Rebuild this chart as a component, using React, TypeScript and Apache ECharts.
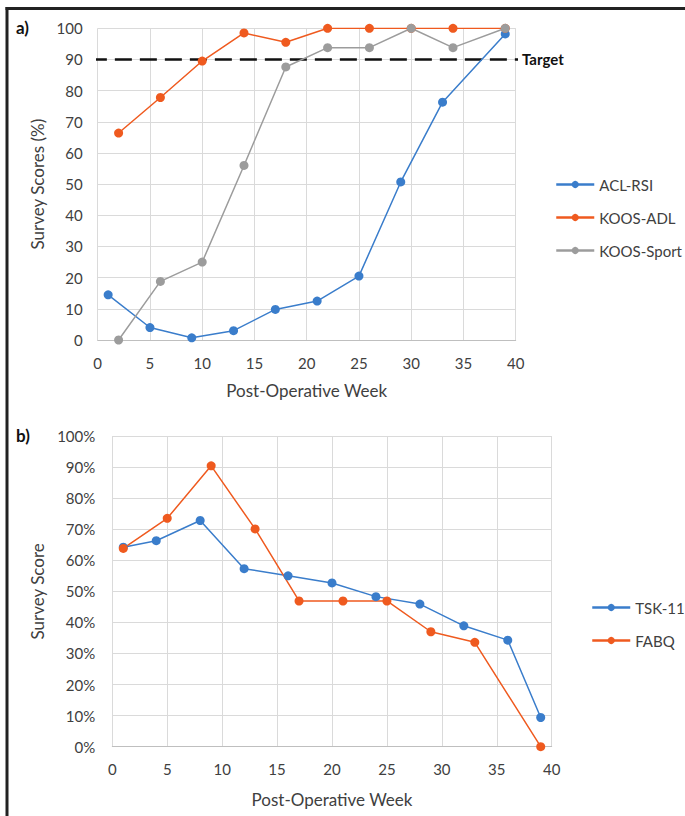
import React, { useEffect, useRef } from "react";
import * as echarts from "echarts";

// ---- Panel a) data ----
const aclWeeks = [1, 5, 9, 13, 17, 21, 25, 29, 33, 39];
const aclRsi = [14.5, 4, 0.7, 3, 9.8, 12.5, 20.5, 50.7, 76.3, 98.2];
const koosWeeks = [2, 6, 10, 14, 18, 22, 26, 30, 34, 39];
const koosAdl = [66.4, 77.8, 89.5, 98.5, 95.5, 100, 100, 100, 100, 100];
const koosSport = [0, 18.8, 25, 56, 87.6, 93.8, 93.8, 100, 93.8, 100];
const targetValue = 90;
const targetSpan = [-0.75, 42.5];

// ---- Panel b) data ----
const tskWeeks = [1, 4, 8, 12, 16, 20, 24, 28, 32, 36, 39];
const tsk11 = [64.2, 66.3, 72.8, 57.3, 55, 52.7, 48.3, 45.9, 38.9, 34.3, 9.4];
const fabqWeeks = [1, 5, 9, 13, 17, 21, 25, 29, 33, 39];
const fabq = [63.8, 73.5, 90.4, 70.1, 46.9, 46.9, 46.9, 37, 33.6, 0];

const BLUE = "#3A7DCB";
const ORANGE = "#EF5A1F";
const GRAY = "#9C9C9C";
const TXT = "#404040";
const FONT = "Lato";

const pairs = (xs: number[], ys: number[]) => xs.map((x, i) => [x, ys[i]]);

function lineSeries(name: string, color: string, data: number[][], idx: number) {
  return {
    name,
    type: "line",
    xAxisIndex: idx,
    yAxisIndex: idx,
    data,
    symbol: "circle",
    symbolSize: 9,
    lineStyle: { color, width: 1.5 },
    itemStyle: { color },
    emphasis: { disabled: true },
  };
}

export default function App() {
  const ref = useRef<HTMLDivElement>(null);
  useEffect(() => {
    if (!ref.current) return;
    const chart = echarts.init(ref.current, null, { renderer: "svg" });
    const axisLabel = { color: TXT, fontSize: 15, fontFamily: FONT };
    const splitLine = { show: true, lineStyle: { color: "#DADADA", width: 1 } };
    const xAxisCommon = {
      type: "value",
      min: 0,
      max: 40,
      interval: 5,
      axisTick: { show: false },
      axisLine: { show: true, lineStyle: { color: "#BFBFBF", width: 1 } },
      splitLine,
      name: "Post-Operative Week",
      nameLocation: "middle",
      nameTextStyle: { color: TXT, fontSize: 17, fontFamily: FONT },
    };
    const yAxisCommon = {
      type: "value",
      min: 0,
      max: 100,
      interval: 10,
      axisTick: { show: false },
      axisLine: { show: false },
      splitLine,
      nameLocation: "middle",
      nameTextStyle: { color: TXT, fontSize: 17, fontFamily: FONT },
    };
    const legendCommon = {
      orient: "vertical",
      padding: 0,
      itemWidth: 38,
      itemHeight: 9,
      itemGap: 18,
      lineStyle: { width: 2.5 },
      textStyle: { color: TXT, fontSize: 15, fontFamily: FONT },
      selectedMode: false,
    };
    const option = {
      animation: false,
      backgroundColor: "#fff",
      textStyle: { fontFamily: FONT },
      grid: [
        { left: 97.7, right: 169.3, top: 28.3, height: 311.7 },
        { left: 112.3, right: 133.3, top: 436, height: 310.7 },
      ],
      xAxis: [
        { ...xAxisCommon, gridIndex: 0, nameGap: 42, axisLabel: { ...axisLabel, margin: 15 } },
        { ...xAxisCommon, gridIndex: 1, nameGap: 44, axisLabel: { ...axisLabel, margin: 15 } },
      ],
      yAxis: [
        {
          ...yAxisCommon,
          gridIndex: 0,
          name: "Survey Scores (%)",
          nameGap: 50,
          axisLabel: { ...axisLabel, margin: 15 },
        },
        {
          ...yAxisCommon,
          gridIndex: 1,
          name: "Survey Score",
          nameGap: 65,
          axisLabel: { ...axisLabel, margin: 17, formatter: "{value}%" },
        },
      ],
      legend: [
        {
          ...legendCommon,
          data: ["ACL-RSI", "KOOS-ADL", "KOOS-Sport"],
          left: 555,
          top: 177,
        },
        {
          ...legendCommon,
          data: ["TSK-11", "FABQ"],
          left: 591,
          top: 600,
        },
      ],
      series: [
        {
          name: "Target",
          type: "line",
          xAxisIndex: 0,
          yAxisIndex: 0,
          data: targetSpan.map((x) => [x, targetValue]),
          symbol: "none",
          clip: false,
          silent: true,
          lineStyle: { color: "#111", width: 2.5, type: [17, 8] },
          endLabel: {
            show: true,
            formatter: "Target",
            distance: 4,
            color: "#111",
            fontSize: 15,
            fontWeight: "bold",
            fontFamily: FONT,
          },
          z: 1,
        },
        lineSeries("ACL-RSI", BLUE, pairs(aclWeeks, aclRsi), 0),
        lineSeries("KOOS-ADL", ORANGE, pairs(koosWeeks, koosAdl), 0),
        lineSeries("KOOS-Sport", GRAY, pairs(koosWeeks, koosSport), 0),
        lineSeries("TSK-11", BLUE, pairs(tskWeeks, tsk11), 1),
        lineSeries("FABQ", ORANGE, pairs(fabqWeeks, fabq), 1),
      ],
      graphic: [
        { type: "line", shape: { x1: 5.5, y1: 8.5, x2: 685, y2: 8.5 }, style: { stroke: "#222", lineWidth: 3 } },
        { type: "line", shape: { x1: 7, y1: 7, x2: 7, y2: 816 }, style: { stroke: "#222", lineWidth: 3 } },
        {
          type: "text",
          left: 16,
          top: 19,
          style: { text: "a)", fontSize: 17, fontWeight: "bold", fill: "#111", fontFamily: FONT },
        },
        {
          type: "text",
          left: 16,
          top: 427,
          style: { text: "b)", fontSize: 17, fontWeight: "bold", fill: "#111", fontFamily: FONT },
        },
      ],
    };
    chart.setOption(option as any);
    return () => chart.dispose();
  }, []);
  return (
    <div
      ref={ref}
      style={{ position: "absolute", left: 0, top: 0, width: 685, height: 816, background: "#fff" }}
    />
  );
}
